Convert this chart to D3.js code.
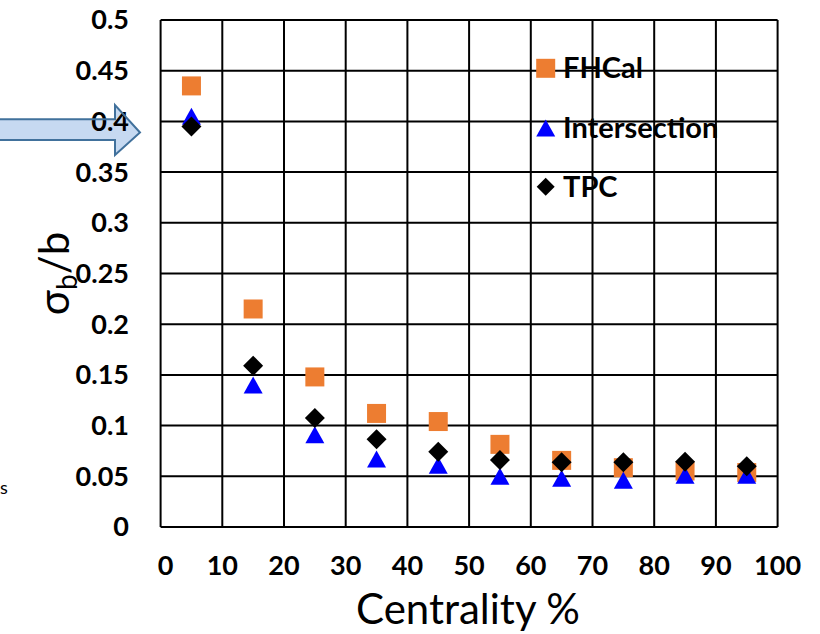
<!DOCTYPE html>
<html><head><meta charset="utf-8">
<script src="https://cdn.jsdelivr.net/npm/d3@7"></script>
<style>body{margin:0;background:#fff;} svg{display:block;}</style>
</head><body>
<svg id="c" width="820" height="634"></svg>
<script>
const centrality = [5, 15, 25, 35, 45, 55, 65, 75, 85, 95];
const fhcal = [0.435, 0.215, 0.148, 0.112, 0.104, 0.0815, 0.0657, 0.0585, 0.0552, 0.0537];
const intersection = [0.405, 0.140, 0.091, 0.067, 0.061, 0.050, 0.048, 0.046, 0.051, 0.051];
const tpc = [0.395, 0.159, 0.1075, 0.0865, 0.0743, 0.066, 0.0638, 0.0638, 0.0644, 0.060];
const xTicks = [0,10,20,30,40,50,60,70,80,90,100];
const yTicks = [0,0.05,0.1,0.15,0.2,0.25,0.3,0.35,0.4,0.45,0.5];
const seriesNames = ["FHCal", "Intersection", "TPC"];

const svg = d3.select("#c");
const pL = 160.6, pR = 777.6, pT = 20, pB = 527;
const x = d3.scaleLinear().domain([0,100]).range([pL,pR]);
const y = d3.scaleLinear().domain([0,0.5]).range([pB,pT]);
const font = "Lato, 'Open Sans', sans-serif";

// grid
const g = svg.append("g");
g.selectAll("line.v").data(xTicks).enter().append("line")
  .attr("x1", d=>x(d)).attr("x2", d=>x(d)).attr("y1", pT).attr("y2", pB)
  .attr("stroke", "#000").attr("stroke-width", 2);
g.selectAll("line.h").data(yTicks).enter().append("line")
  .attr("y1", d=>y(d)).attr("y2", d=>y(d)).attr("x1", pL).attr("x2", pR)
  .attr("stroke", "#000").attr("stroke-width", 2);

// block arrow on left (fill below labels, outline above)
const arrow = [[-10,119.3],[115,119.3],[115,105],[140,132.5],[115,155],[115,140],[-10,140]];
const arrowD = d3.line()(arrow) + "Z";
svg.append("path").attr("d", arrowD).attr("fill", "#c6d9f1");

// y tick labels
svg.append("g").selectAll("text").data(yTicks).enter().append("text")
  .attr("x", 129).attr("y", d=>y(d)).attr("dy", "0.35em")
  .attr("text-anchor", "end").attr("font-family", font).attr("font-weight", "bold")
  .attr("font-size", 27).attr("fill", "#000")
  .text(d=>d3.format("~g")(d));

svg.append("path").attr("d", arrowD).attr("fill", "none").attr("stroke", "#41719c").attr("stroke-width", 2);

// x tick labels
svg.append("g").selectAll("text").data(xTicks).enter().append("text")
  .attr("x", d=>x(d) + (d===0?5:0)).attr("y", 566).attr("dy", "0.35em")
  .attr("text-anchor", "middle").attr("font-family", font).attr("font-weight", "bold")
  .attr("font-size", 27).attr("fill", "#000")
  .text(d=>d);

// axis titles
svg.append("text").attr("x", 468).attr("y", 624)
  .attr("text-anchor","middle").attr("font-family", font).attr("font-size", 42).attr("fill","#000")
  .text("Centrality %");
const yl = svg.append("text").attr("transform", `translate(69,${(pT+pB)/2}) rotate(-90)`)
  .attr("text-anchor","middle").attr("font-family", font).attr("font-size", 42).attr("fill","#000");
yl.append("tspan").text("σ");
yl.append("tspan").attr("dy", 8).attr("font-size", 28).text("b");
yl.append("tspan").attr("dy", -8).text("/b");

// markers
const sq = "M-9.5,-9.5H9.5V9.5H-9.5Z";
const tri = "M0,-8.5L9.5,8.5L-9.5,8.5Z";
const dia = "M0,-10L10,0L0,10L-10,0Z";
const series = [
  {name: seriesNames[0], vals: fhcal, path: sq, color: "#ED7D31"},
  {name: seriesNames[1], vals: intersection, path: tri, color: "#0000FF"},
  {name: seriesNames[2], vals: tpc, path: dia, color: "#000000"}
];
series.forEach(s => {
  svg.append("g").selectAll("path").data(s.vals).enter().append("path")
    .attr("d", s.path).attr("fill", s.color)
    .attr("transform", (d,i)=>`translate(${x(centrality[i])},${y(d)})`);
});

// legend
const legY = [68.3, 128, 186.7];
series.forEach((s,i) => {
  svg.append("path").attr("d", s.path).attr("fill", s.color)
    .attr("transform", `translate(545.7,${legY[i]})${i===2?" scale(0.9)":""}`);
  svg.append("text").attr("x", 563).attr("y", legY[i]).attr("dy","0.35em")
    .attr("font-family", font).attr("font-weight","bold").attr("font-size", 29).attr("fill","#000")
    .text(s.name);
});

// stray glyph at left edge
svg.append("text").attr("x", 0).attr("y", 494).attr("font-family", font).attr("font-size", 18).attr("fill","#000").text("s");
</script>
</body></html>
